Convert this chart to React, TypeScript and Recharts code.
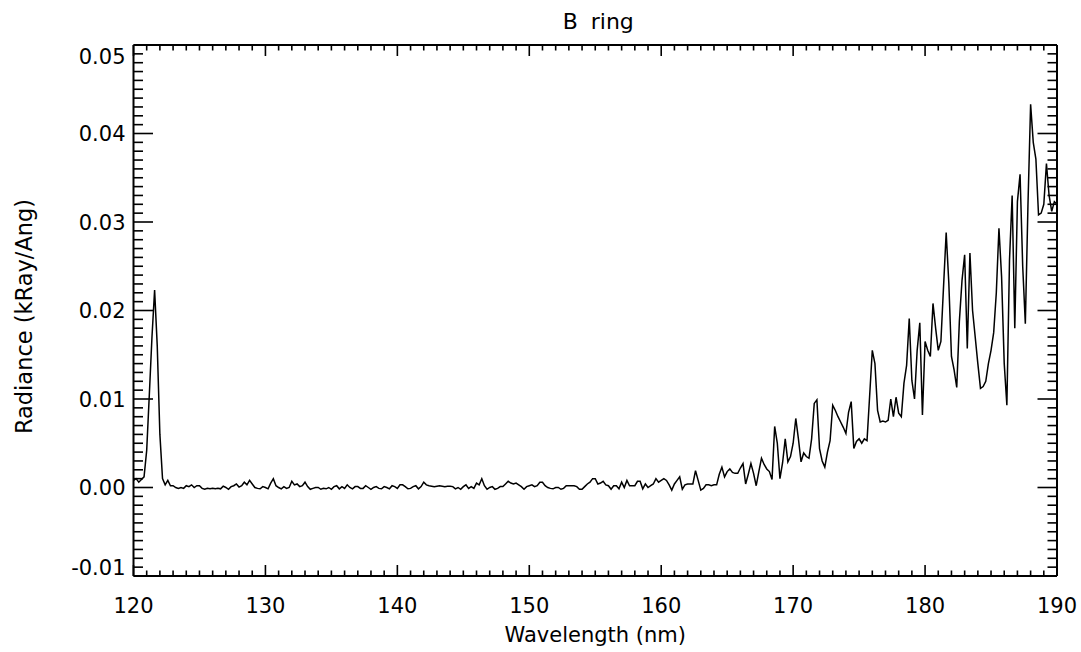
import { Line, LineChart, XAxis, YAxis } from "recharts";

const FONT = "'DejaVu Sans', sans-serif";
const INK = "#000";

// wavelength grid: 120.0 nm upward in 0.2 nm steps
const WL_START = 120;
const WL_STEP = 0.2;

// radiance, in units of 1e-3 kRay/Ang
const lymanAlpha = [
  0.8, 1.0, 0.6, 0.9, 1.2,
  4.2, 10.5, 17.0, 22.3, 16.0,
  6.0, 1.0, 0.3, 0.8, 0.2,
];

const flatContinuum = [
  0.2, 0.0, -0.1, 0.0, -0.1,
  0.2, 0.1, 0.3, 0.0, 0.2,
  0.2, -0.1, -0.2, -0.1, -0.15,
  -0.1, -0.15, -0.1, -0.15, 0.15,
  0.0, -0.2, 0.1, 0.2, 0.4,
  0.05, 0.2, 0.6, 0.3, 0.8,
  0.4, 0.0, -0.1, -0.15, 0.1,
  0.0, -0.15, 0.5, 1.0, 0.2,
  0.0, -0.15, 0.1, -0.1, 0.0,
  0.7, 0.3, 0.4, 0.1, 0.2,
  0.6, 0.1, -0.2, -0.1, 0.0,
  0.0, -0.2, -0.1, -0.15, 0.0,
  -0.2, 0.1, 0.2, -0.15, 0.1,
  -0.1, 0.3, 0.0, -0.15, 0.1,
  0.1, -0.1, -0.1, 0.2, 0.0,
  -0.2, 0.0, 0.1, -0.1, -0.15,
  0.1, 0.0, -0.15, 0.2, 0.1,
  -0.1, 0.3, 0.3, 0.1, -0.15,
  -0.1, 0.1, 0.2, -0.15, 0.1,
  0.6, 0.3, 0.2, 0.15, 0.1,
  0.15, 0.2, 0.15, 0.1, 0.15,
  0.15, 0.1, -0.15, 0.0, -0.2,
  0.1, 0.3, -0.1, 0.1, -0.1,
  0.5, 0.3, 1.0, 0.2, -0.2,
  0.0, 0.1, -0.2, -0.1, 0.1,
  0.1, 0.4, 0.7, 0.5, 0.4,
  0.5, 0.3, 0.1, -0.2, 0.1,
  0.2, 0.3, 0.1, 0.2, 0.6,
  0.6, 0.2, 0.0, -0.1, -0.15,
  0.0, 0.0, -0.2, -0.1, 0.2,
  0.2, 0.2, 0.2, 0.1, -0.2,
  -0.2, 0.1, 0.4, 0.6, 1.0,
  1.0, 0.4, 0.5, 0.7, 0.3,
  0.2, -0.2, 0.2, 0.2, -0.15,
  0.6, 0.0, 0.8, 0.2, 0.2,
  0.2, 0.7, 0.7, -0.15, 0.4,
  0.0, 0.2, 0.4, 1.0, 0.6,
  0.8, 1.0, 0.8, 0.3, -0.3,
  0.4, 0.8, 1.2, -0.2, 0.3,
  0.4, 0.4, 0.4, 1.9, 0.8,
];

const redWing = [
  -0.3, -0.1, 0.3, 0.3, 0.2,
  0.3, 0.3, 1.5, 2.3, 1.2,
  1.8, 2.1, 1.7, 1.6, 1.6,
  2.2, 2.7, 0.4, 1.5, 2.7,
  1.6, 0.2, 1.8, 3.3, 2.6,
  2.1, 1.8, 0.9, 6.9, 5.0,
  1.0, 2.8, 5.5, 2.9, 3.5,
  5.0, 7.8, 5.5, 2.9, 3.9,
  3.5, 3.3, 5.5, 9.5, 9.9,
  4.4, 3.0, 2.3, 4.0, 5.3,
  9.3, 8.7, 8.0, 7.4, 6.8,
  6.1, 8.5, 9.7, 4.4, 5.2,
  5.5, 5.0, 5.5, 5.3, 10.4,
  15.5, 14.0, 8.7, 7.4, 7.5,
  7.4, 7.6, 10.0, 8.0, 10.2,
  8.4, 8.0, 11.8, 13.8, 19.1,
  12.1, 10.0, 15.5, 18.6, 8.2,
  16.5, 15.5, 14.8, 20.8, 18.0,
  15.5, 16.5, 22.7, 28.8, 23.1,
  14.8, 13.3, 11.3, 18.8, 23.4,
  26.3, 15.7, 26.5, 20.0, 17.0,
  14.0, 11.2, 11.4, 12.0, 14.0,
  15.5, 17.5, 22.0, 29.3, 23.8,
  14.0, 9.3, 25.7, 33.0, 18.0,
  32.3, 35.4, 25.0, 18.5, 32.0,
  43.3, 39.0, 37.1, 30.8, 31.0,
  32.0, 36.6, 33.0, 31.2, 32.3,
  32.0,
];

const xMajor = [120, 130, 140, 150, 160, 170, 180, 190];
const yMajor = [-0.01, 0, 0.01, 0.02, 0.03, 0.04, 0.05];

const radiance = [...lymanAlpha, ...flatContinuum, ...redWing];
const data = radiance.map((v, i) => ({
  wl: Math.round((WL_START + i * WL_STEP) * 10) / 10,
  r: v / 1000,
}));

// minor ticks: 1 nm and 0.001 kRay/Ang
const xTicks = Array.from({ length: 71 }, (_, i) => 120 + i);
const yTicks = Array.from({ length: 61 }, (_, i) => (i - 10) / 1000);

const isMajorX = (v: number) => xMajor.includes(v);
const isMajorY = (v: number) => yMajor.some((m) => Math.abs(m - v) < 1e-9);

function XTick(props: any) {
  const { x, y, payload, side } = props;
  const major = isMajorX(payload.value);
  const len = major ? 11 : 5.5;
  const dir = side === "bottom" ? -1 : 1;
  return (
    <g>
      <line x1={x} x2={x} y1={y} y2={y + dir * len} stroke={INK} strokeWidth={1.6} />
      {side === "bottom" && major && (
        <text x={x} y={y + 37} textAnchor="middle" fontFamily={FONT} fontSize={21} fill={INK}>
          {payload.value}
        </text>
      )}
    </g>
  );
}

function YTick(props: any) {
  const { x, y, payload, side } = props;
  const major = isMajorY(payload.value);
  const len = major ? 19.5 : 9.5;
  const dir = side === "left" ? 1 : -1;
  const cy = Math.min(Math.max(y, 56), 567);
  return (
    <g>
      <line x1={x} x2={x + dir * len} y1={y} y2={y} stroke={INK} strokeWidth={1.6} />
      {side === "left" && major && (
        <text x={x - 8} y={cy + 7.5} textAnchor="end" fontFamily={FONT} fontSize={21} fill={INK}>
          {payload.value.toFixed(2)}
        </text>
      )}
    </g>
  );
}

function Title(props: any) {
  const { viewBox, kind } = props;
  if (!viewBox) return null;
  if (kind === "top") {
    return (
      <text x={viewBox.x + viewBox.width / 2 + 3} y={29} textAnchor="middle" fontFamily={FONT} fontSize={22} fill={INK}>
        B<tspan dx={6}> ring</tspan>
      </text>
    );
  }
  if (kind === "bottom") {
    return (
      <text x={viewBox.x + viewBox.width / 2} y={642} textAnchor="middle" fontFamily={FONT} fontSize={21} fill={INK}>
        Wavelength (nm)
      </text>
    );
  }
  const cy = viewBox.y + viewBox.height / 2 + 6;
  return (
    <text
      x={32}
      y={cy}
      transform={`rotate(-90, 32, ${cy})`}
      textAnchor="middle"
      fontFamily={FONT}
      fontSize={22.5}
      fill={INK}
    >
      Radiance (kRay/Ang)
    </text>
  );
}

const frame = { stroke: INK, strokeWidth: 2 };

export default function App() {
  return (
    <div style={{ position: "absolute", left: 0, top: 0, width: 1081, height: 652, background: "#fff" }}>
      <LineChart width={1081} height={652} data={data} margin={{ top: 0, right: 0, bottom: 0, left: 0 }}>
        <XAxis
          xAxisId="bottom"
          orientation="bottom"
          type="number"
          dataKey="wl"
          domain={[120, 190]}
          ticks={xTicks}
          interval={0}
          height={76}
          tickSize={0}
          tickMargin={0}
          tickLine={false}
          axisLine={frame}
          tick={(p: any) => <XTick {...p} side="bottom" />}
          label={<Title kind="bottom" />}
        />
        <XAxis
          xAxisId="top"
          orientation="top"
          type="number"
          dataKey="wl"
          domain={[120, 190]}
          ticks={xTicks}
          interval={0}
          height={45}
          tickSize={0}
          tickMargin={0}
          tickLine={false}
          axisLine={frame}
          tick={(p: any) => <XTick {...p} side="top" />}
          label={<Title kind="top" />}
        />
        <YAxis
          yAxisId="left"
          orientation="left"
          type="number"
          domain={[-0.01, 0.05]}
          allowDataOverflow
          ticks={yTicks}
          interval={0}
          width={133.5}
          tickSize={0}
          tickMargin={0}
          tickLine={false}
          axisLine={frame}
          tick={(p: any) => <YTick {...p} side="left" />}
          label={<Title kind="left" />}
        />
        <YAxis
          yAxisId="right"
          orientation="right"
          type="number"
          domain={[-0.01, 0.05]}
          allowDataOverflow
          ticks={yTicks}
          interval={0}
          width={24}
          tickSize={0}
          tickMargin={0}
          tickLine={false}
          axisLine={frame}
          tick={(p: any) => <YTick {...p} side="right" />}
        />
        <Line
          xAxisId="bottom"
          yAxisId="left"
          type="linear"
          dataKey="r"
          stroke={INK}
          strokeWidth={1.5}
          dot={false}
          activeDot={false}
          isAnimationActive={false}
        />
      </LineChart>
    </div>
  );
}
